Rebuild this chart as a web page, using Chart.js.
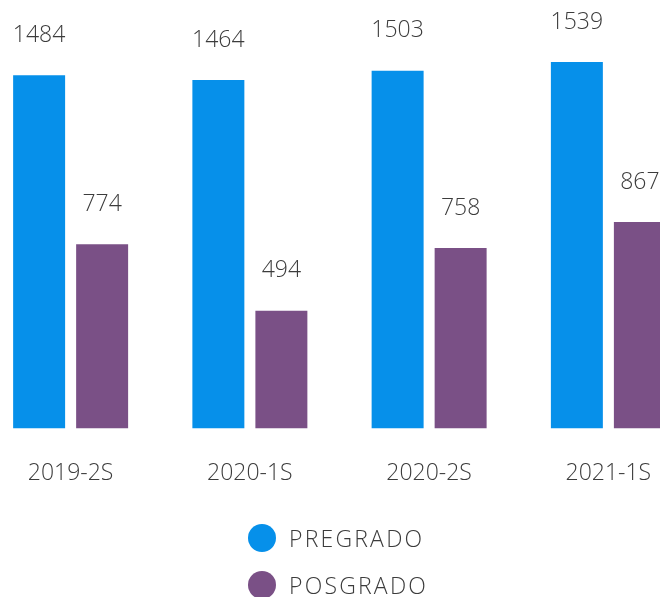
<!DOCTYPE html>
<html>
<head>
<meta charset="utf-8">
<script src="https://cdn.jsdelivr.net/npm/chart.js@4.4.0/dist/chart.umd.min.js"></script>
<style>
    html, body { margin: 0; padding: 0; background: #fff; overflow: hidden; width: 660px; height: 597px; }
    #wrap { position: absolute; left: -19px; top: 0; width: 717px; height: 518px; }
    #legend { position: absolute; left: 248px; top: 514px; font-family: "Open Sans", sans-serif; font-weight: 300; color: #3c3c3c; font-size: 23px; letter-spacing: 2.2px; }
    .item { display: flex; align-items: center; height: 47px; }
    .dot { width: 28px; height: 28px; border-radius: 50%; margin-right: 13px; }
</style>
</head>
<body>
<div id="wrap"><canvas id="chart"></canvas></div>
<div id="legend"></div>
<script>
// data
const categories = ['2019-2S', '2020-1S', '2020-2S', '2021-1S'];
const pregrado = [1484, 1464, 1503, 1539];
const posgrado = [774, 494, 758, 867];
const seriesNames = ['PREGRADO', 'POSGRADO'];
const seriesColors = ['#0690ea', '#7a5086'];

const textColor = '#3c3c3c';
const fontFamily = '"Open Sans", sans-serif';

// value labels above each bar
const valueLabels = {
    id: 'valueLabels',
    afterDatasetsDraw(chart) {
        const ctx = chart.ctx;
        ctx.save();
        ctx.fillStyle = textColor;
        ctx.font = '300 23px ' + fontFamily;
        ctx.textAlign = 'center';
        ctx.textBaseline = 'middle';
        chart.data.datasets.forEach((ds, i) => {
            chart.getDatasetMeta(i).data.forEach((bar, j) => {
                ctx.fillText(String(ds.data[j]), bar.x, bar.y - 40);
            });
        });
        ctx.restore();
    }
};

const chart = new Chart(document.getElementById('chart'), {
    type: 'bar',
    data: {
        labels: categories,
        datasets: [
            { label: seriesNames[0], data: pregrado, backgroundColor: seriesColors[0] },
            { label: seriesNames[1], data: posgrado, backgroundColor: seriesColors[1] }
        ]
    },
    options: {
        responsive: true,
        maintainAspectRatio: false,
        animation: false,
        categoryPercentage: 0.703,
        barPercentage: 0.825,
        layout: { padding: 0 },
        plugins: {
            legend: { display: false },
            tooltip: { enabled: false }
        },
        scales: {
            x: {
                grid: { display: false, drawTicks: false },
                border: { display: false },
                ticks: {
                    color: textColor,
                    padding: 31,
                    font: { family: fontFamily, size: 23, weight: 300 }
                }
            },
            y: {
                display: false,
                min: 0,
                max: 1800
            }
        }
    },
    plugins: [valueLabels]
});

// legend stacked vertically like the reference
const legend = document.getElementById('legend');
seriesNames.forEach((name, i) => {
    const item = document.createElement('div');
    item.className = 'item';
    item.innerHTML = `<span class="dot" style="background:${seriesColors[i]}"></span><span>${name}</span>`;
    legend.appendChild(item);
});
</script>
</body>
</html>
